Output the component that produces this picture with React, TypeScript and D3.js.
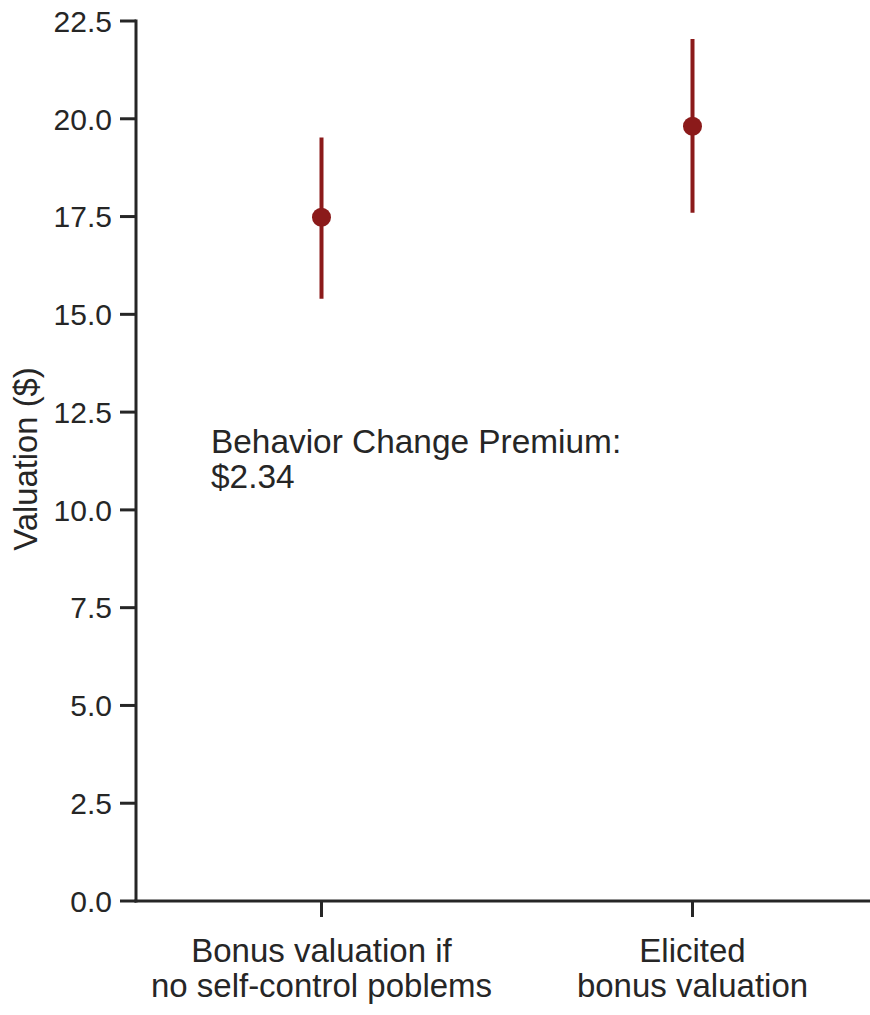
import React from "react";
import * as d3 from "d3";

const categories: string[][] = [
  ["Bonus valuation if", "no self-control poblems"],
  ["Elicited", "bonus valuation"],
];
const means: number[] = [17.48, 19.81];
const lower: number[] = [15.4, 17.6];
const upper: number[] = [19.52, 22.04];
const yTicks: number[] = [0, 2.5, 5, 7.5, 10, 12.5, 15, 17.5, 20, 22.5];
const annotation: string[] = ["Behavior Change Premium:", "$2.34"];

const W = 870;
const H = 1015;
const left = 136;
const right = 878;
const top = 21;
const bottom = 901;
const dark = "#262626";
const red = "#8b1a1a";
const font = "'Liberation Sans', Arial, Helvetica, sans-serif";

export default function App() {
  const y = d3.scaleLinear().domain([0, 22.5]).range([bottom, top]);
  const x = d3
    .scalePoint<number>()
    .domain(categories.map((_, i) => i))
    .range([left, right])
    .padding(0.5);

  return (
    <svg
      width={W}
      height={H}
      style={{ position: "absolute", left: 0, top: 0, display: "block", background: "#fff" }}
      fontFamily={font}
    >
      {/* y axis */}
      <line x1={left} x2={left} y1={top - 1.5} y2={bottom + 1.5} stroke={dark} strokeWidth={3} />
      {yTicks.map((t) => (
        <g key={t}>
          <line x1={left - 16} x2={left} y1={y(t)} y2={y(t)} stroke={dark} strokeWidth={3} />
          <text
            x={left - 24}
            y={y(t)}
            dy="0.36em"
            textAnchor="end"
            fontSize={30}
            fill={dark}
          >
            {t.toFixed(1)}
          </text>
        </g>
      ))}
      <text
        transform={`translate(37, ${(top + bottom) / 2 - 2}) rotate(-90)`}
        textAnchor="middle"
        fontSize={32.8}
        fill={dark}
      >
        Valuation ($)
      </text>

      {/* x axis */}
      <line x1={left - 1.5} x2={right} y1={bottom} y2={bottom} stroke={dark} strokeWidth={3} />
      {categories.map((c, i) => (
        <g key={i}>
          <line x1={x(i)!} x2={x(i)!} y1={bottom} y2={bottom + 16} stroke={dark} strokeWidth={3} />
          {c.map((line, j) => (
            <text
              key={j}
              x={x(i)!}
              y={962 + j * 34.5}
              textAnchor="middle"
              fontSize={33}
              fill={dark}
            >
              {line}
            </text>
          ))}
        </g>
      ))}

      {/* error bars and points */}
      {means.map((m, i) => (
        <g key={i}>
          <line x1={x(i)!} x2={x(i)!} y1={y(lower[i])} y2={y(upper[i])} stroke={red} strokeWidth={4} />
          <circle cx={x(i)!} cy={y(m)} r={9.5} fill={red} />
        </g>
      ))}

      {/* annotation */}
      {annotation.map((line, j) => (
        <text key={j} x={211} y={453 + j * 35} fontSize={33.4} fill={dark}>
          {line}
        </text>
      ))}
    </svg>
  );
}
